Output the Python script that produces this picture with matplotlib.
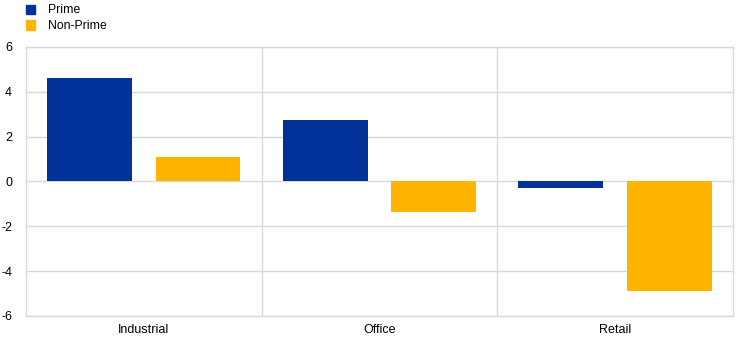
import numpy as np
import matplotlib.pyplot as plt

# categories and values
categories = ["Industrial", "Office", "Retail"]
prime = [4.62, 2.75, -0.30]
non_prime = [1.09, -1.36, -4.89]
series_names = ["Prime", "Non-Prime"]

blue = "#003299"
yellow = "#FFB400"
grid_col = "#d9d9d9"

plt.rcParams["font.family"] = ["Liberation Sans", "DejaVu Sans"]
plt.rcParams["axes.unicode_minus"] = False

fig = plt.figure(figsize=(7.44, 3.43), dpi=100)
ax = fig.add_axes([0.035, 0.079, 0.950, 0.784])

x = np.arange(len(categories))
w = 0.36
ax.bar(x - 0.23, prime, w, color=blue, zorder=3)
ax.bar(x + 0.23, non_prime, w, color=yellow, zorder=3)

ax.set_xlim(-0.5, len(categories) - 0.5)
ax.set_ylim(-6, 6)
ax.set_yticks(np.arange(-6, 7, 2))
ax.set_xticks(x)
ax.set_xticklabels(categories)
ax.tick_params(length=0, labelsize=9, colors="black")
ax.tick_params(axis="y", pad=10)
ax.tick_params(axis="x", pad=6)

# horizontal grid + vertical separators between categories
ax.grid(axis="y", color=grid_col, linewidth=1, zorder=0)
for b in x[:-1] + 0.5:
    ax.axvline(b, color=grid_col, linewidth=1, zorder=0)
for s in ax.spines.values():
    s.set_color(grid_col)
    s.set_linewidth(1)

# legend in the top-left corner of the figure
handles = [plt.Rectangle((0, 0), 1, 1, color=c) for c in (blue, yellow)]
fig.legend(handles, series_names, loc="upper left", bbox_to_anchor=(0.023, 1.012),
           frameon=False, fontsize=8.8, handlelength=0.8, handleheight=0.8,
           handletextpad=1.0, labelspacing=0.3, borderpad=0.2)

fig.savefig("out.png", dpi=100)
